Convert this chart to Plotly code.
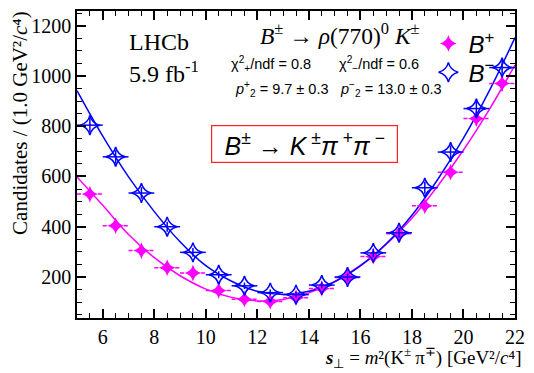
import plotly.graph_objects as go

# ---------------- data ----------------
s_bins = [5.5, 6.5, 7.5, 8.5, 9.5, 10.5, 11.5, 12.5, 13.5, 14.5, 15.5,
          16.5, 17.5, 18.5, 19.5, 20.5, 21.5]
bin_half_width = 0.5
bplus = [530, 404, 305, 237, 216, 146, 112, 103, 118, 154, 198, 282, 372, 483, 617, 830, 970]
bplus_err = [23, 20, 17, 15, 15, 12, 11, 10, 11, 12, 14, 17, 19, 22, 25, 29, 31]
bminus = [804, 678, 534, 400, 298, 209, 165, 138, 130, 168, 200, 296, 376, 555, 697, 870, 1033]
bminus_err = [28, 26, 23, 20, 17, 14, 13, 12, 11, 13, 14, 17, 19, 24, 26, 29, 32]

fit_s = [5, 6, 7, 8, 9, 10, 11, 12, 13, 14, 15, 16, 17, 18, 19, 20, 21, 22]
fit_bplus = [598, 485, 369, 277, 205, 152, 119, 105, 111, 137, 182, 246, 330, 434, 562, 705, 866, 1043]
fit_bminus = [941, 760, 598, 460, 340, 245, 183, 143, 130, 143, 181, 244, 332, 446, 588, 752, 940, 1152]

x_ticks = [6, 8, 10, 12, 14, 16, 18, 20, 22]
y_ticks = [200, 400, 600, 800, 1000, 1200]

# ---------------- styling ----------------
W, H = 534, 373
L, R, T, B = 77, 12, 9, 55
PW, PH = W - L - R, H - T - B
MAG = "#FF00FF"
BLU = "#0000FF"
SERIF = "Liberation Serif"
SANS = "Liberation Sans"


def px(xp):
    return (xp - L) / PW


def py(yp):
    return (H - B - yp) / PH


fig = go.Figure()

# fit curves
fig.add_trace(go.Scatter(x=fit_s, y=fit_bplus, mode="lines", line=dict(color=MAG, width=1.5, shape="spline"),
                         showlegend=False, hoverinfo="skip"))
fig.add_trace(go.Scatter(x=fit_s, y=fit_bminus, mode="lines", line=dict(color=BLU, width=1.5, shape="spline"),
                         showlegend=False, hoverinfo="skip"))

# dashed horizontal bin-width bars for B+
hx, hy = [], []
for s, v in zip(s_bins, bplus):
    hx += [s - bin_half_width, s + bin_half_width, None]
    hy += [v, v, None]
fig.add_trace(go.Scatter(x=hx, y=hy, mode="lines", line=dict(color=MAG, width=1.5, dash="4px,3px"),
                         showlegend=False, hoverinfo="skip"))

# B+ points
fig.add_trace(go.Scatter(
    x=s_bins, y=bplus, mode="markers", name="<i>B</i><sup>+</sup>", legend="legend",
    marker=dict(symbol="star-diamond", size=12, color=MAG, line=dict(width=0)),
    error_y=dict(type="data", array=bplus_err, color=MAG, thickness=1.5, width=0),
))

# B- points
fig.add_trace(go.Scatter(
    x=s_bins, y=bminus, mode="markers", name="<i>B</i><sup>−</sup>", legend="legend2",
    marker=dict(symbol="star-diamond-open", size=14, color=BLU, line=dict(width=1.5, color=BLU)),
    error_x=dict(type="constant", value=bin_half_width, color=BLU, thickness=1.5, width=0),
    error_y=dict(type="data", array=bminus_err, color=BLU, thickness=1.5, width=0),
))

axis_common = dict(
    showline=True, linecolor="black", linewidth=1.5, mirror="allticks",
    ticks="inside", ticklen=9, tickwidth=1.5, tickcolor="black",
    showgrid=False, zeroline=False,
    tickfont=dict(family=SERIF, size=20, color="black"),
)

fig.update_xaxes(range=[5, 22], tickvals=x_ticks, ticktext=[str(t) for t in x_ticks],
                 minor=dict(dtick=0.5, ticks="inside", ticklen=5, tickwidth=1.2, tickcolor="black", showgrid=False),
                 **axis_common)
fig.update_yaxes(range=[37, 1258], tickvals=y_ticks, ticktext=[str(t) for t in y_ticks],
                 minor=dict(dtick=50, tick0=0, ticks="inside", ticklen=5, tickwidth=1.2, tickcolor="black", showgrid=False),
                 **axis_common)

ann = []
# axis titles
ann.append(dict(text="<b><i>s</i></b><sub>⊥</sub> = <i>m</i>²(K<sup>±</sup>\u2009π<sup>∓</sup>) [GeV²/<i>c</i>⁴]",
                x=px(530), y=py(358), xref="paper", yref="paper", xanchor="right", yanchor="middle",
                showarrow=False, font=dict(family=SERIF, size=19, color="black")))
ann.append(dict(text="Candidates / (1.0 GeV²/<i>c</i>⁴)",
                x=px(19), y=py(7), xref="paper", yref="paper", xanchor="center", yanchor="top",
                textangle=-90, showarrow=False, font=dict(family=SERIF, size=21, color="black")))
# LHCb label
ann.append(dict(text="LHCb", x=px(128), y=py(40), xref="paper", yref="paper", xanchor="left", yanchor="middle",
                showarrow=False, font=dict(family=SERIF, size=24, color="black")))
ann.append(dict(text="5.9 fb<sup>-1</sup>", x=px(128), y=py(70), xref="paper", yref="paper", xanchor="left",
                yanchor="middle", showarrow=False, font=dict(family=SERIF, size=24, color="black")))
# decay title
ann.append(dict(text="<i>B</i><sup>±</sup> → <i>ρ</i>(770)<sup>0</sup> <i>K</i><sup>±</sup>",
                x=px(261), y=py(32), xref="paper", yref="paper", xanchor="left", yanchor="middle",
                showarrow=False, font=dict(family=SERIF, size=23.5, color="black")))
# fit stats
ann.append(dict(text="χ<sup>2</sup><sub>+</sub>/ndf = 0.8", x=px(231), y=py(62), xref="paper", yref="paper",
                xanchor="left", yanchor="middle", showarrow=False, font=dict(family=SANS, size=14.5, color="black")))
ann.append(dict(text="χ<sup>2</sup><sub>−</sub>/ndf = 0.6", x=px(341), y=py(62), xref="paper", yref="paper",
                xanchor="left", yanchor="middle", showarrow=False, font=dict(family=SANS, size=14.5, color="black")))
ann.append(dict(text="<i>p</i><sup>+</sup><sub>2</sub> = 9.7 ± 0.3", x=px(235), y=py(88), xref="paper", yref="paper",
                xanchor="left", yanchor="middle", showarrow=False, font=dict(family=SANS, size=14.5, color="black")))
ann.append(dict(text="<i>p</i><sup>−</sup><sub>2</sub> = 13.0 ± 0.3", x=px(342), y=py(88), xref="paper", yref="paper",
                xanchor="left", yanchor="middle", showarrow=False, font=dict(family=SANS, size=14.5, color="black")))
# boxed channel
ann.append(dict(text="<i>B</i><sup>±</sup> → <i>K</i>\u2009<sup>±</sup><i>π</i>\u2009<sup>+</sup><i>π</i>\u2009<sup>−</sup>",
                x=px(308), y=py(143), xref="paper", yref="paper", xanchor="center", yanchor="middle",
                width=177, height=28, align="center", valign="middle",
                showarrow=False, bordercolor="#FF2020", borderwidth=1.2, borderpad=4,
                font=dict(family=SANS, size=25, color="black")))

leg_common = dict(xanchor="left", yanchor="middle", bgcolor="rgba(0,0,0,0)",
                  font=dict(family=SANS, size=24, color="black"), itemwidth=30, tracegroupgap=0)
fig.update_layout(
    width=W, height=H,
    margin=dict(l=L, r=R, t=T, b=B),
    paper_bgcolor="white", plot_bgcolor="white",
    annotations=ann,
    showlegend=True,
    legend=dict(x=px(434), y=py(42), **leg_common),
    legend2=dict(x=px(434), y=py(71), **leg_common),
)

fig.write_html("out.html")
